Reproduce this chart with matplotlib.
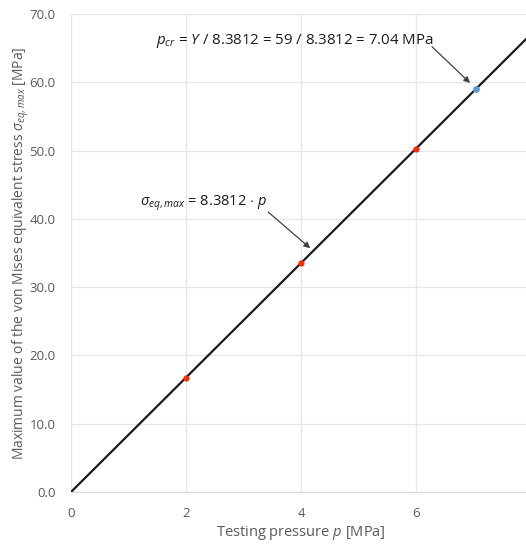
import matplotlib
matplotlib.use("Agg")
import matplotlib.pyplot as plt

plt.rcParams['font.family'] = ['Open Sans', 'DejaVu Sans']
plt.rcParams['mathtext.fontset'] = 'custom'
plt.rcParams['mathtext.rm'] = 'Open Sans'
plt.rcParams['mathtext.it'] = 'Open Sans:italic'

# data
slope = 8.3812
line_p = [0, 8]
test_p = [2, 4, 6]
crit_p = [7.04]
crit_stress = [59.0]
x_ticks = [0, 2, 4, 6, 8]
y_ticks = [0, 10, 20, 30, 40, 50, 60, 70]

fig = plt.figure(figsize=(5.26, 5.45), dpi=100)
# axes run past the right edge, as in the cropped original
ax = fig.add_axes([71 / 526, 53 / 545, 460 / 526, 478 / 545])

line_s = [slope * p for p in line_p]
test_s = [slope * p for p in test_p]

ax.plot(line_p, line_s, color='#1a1a1a', lw=1.6, zorder=3)
ax.scatter(test_p, test_s, s=20, color='#ff2a00', zorder=4, linewidths=0)
ax.scatter(crit_p, crit_stress, s=24, color='#5b9bd5', zorder=4, linewidths=0)

ax.set_xlim(0, 8)
ax.set_ylim(0, 70)
ax.set_xticks(x_ticks)
ax.set_yticks(y_ticks)
ax.set_yticklabels([f"{v:.1f}" for v in y_ticks])
ax.grid(True, color='#e8e8e8', lw=1)
ax.set_axisbelow(True)
for s in ['top', 'right', 'left']:
    ax.spines[s].set_visible(False)
ax.spines['bottom'].set_color('#d9d9d9')
ax.tick_params(length=0, colors='#595959', labelsize=9.5)
ax.tick_params(axis='x', pad=11)
ax.tick_params(axis='y', pad=11)

ax.set_xlabel(r'Testing pressure $p$ [MPa]', color='#595959', fontsize=10.5, labelpad=3)
ax.set_ylabel(r'Maximum value of the von Mises equivalent stress $\sigma_{eq,max}$ [MPa]',
              color='#595959', fontsize=10)
ax.yaxis.set_label_coords(-0.088, 0.5)

# annotations
ax.text(6.30, 66.0, r'$p_{cr}$ = $Y$ / 8.3812 = 59 / 8.3812 = 7.04 MPa',
        fontsize=10.8, color='#1a1a1a', ha='right', va='center')
ax.annotate('', xy=(6.94, 59.9), xytext=(6.28, 65.2),
            arrowprops=dict(arrowstyle='-|>', color='#404040', lw=0.9,
                            mutation_scale=9, shrinkA=0, shrinkB=0))
ax.text(3.41, 42.3, r'$\sigma_{eq,max}$ = 8.3812 $\cdot$ $p$',
        fontsize=10.5, color='#1a1a1a', ha='right', va='center')
ax.annotate('', xy=(4.16, 35.7), xytext=(3.43, 41.0),
            arrowprops=dict(arrowstyle='-|>', color='#404040', lw=0.9,
                            mutation_scale=9, shrinkA=0, shrinkB=0))

fig.savefig('out.png', dpi=100)
